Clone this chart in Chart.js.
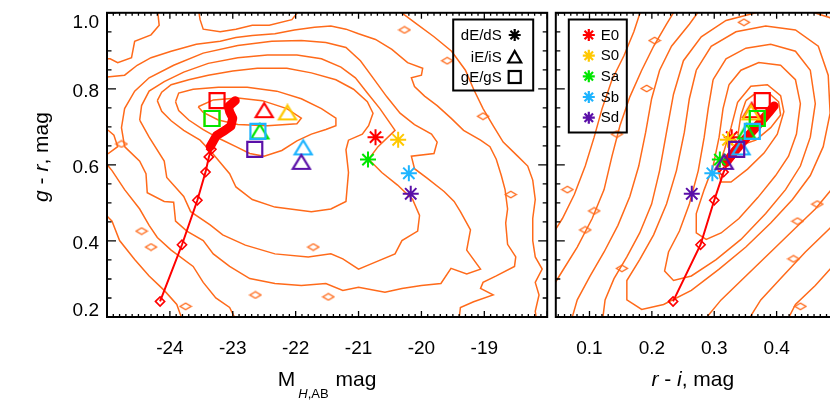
<!DOCTYPE html>
<html><head><meta charset="utf-8">
<script src="https://cdn.jsdelivr.net/npm/chart.js@4.4.1/dist/chart.umd.min.js"></script>
<style>
html,body{margin:0;padding:0;background:#fff;overflow:hidden;width:830px;height:415px;}
#wrap{position:relative;width:830px;height:415px;overflow:hidden;}
#c1{position:absolute;left:0;top:0;}
#c2{position:absolute;left:543px;top:0;}
</style></head><body>
<div id="wrap"><canvas id="c1" width="560" height="415"></canvas><canvas id="c2" width="320" height="415"></canvas></div>
<script>
// ---------------- data ----------------
const galaxyTypes = ['E0','S0','Sa','Sb','Sd'];
const classLabels = ['dE/dS','iE/iS','gE/gS'];
const leftXTicks = [-24,-23,-22,-21,-20,-19];
const rightXTicks = [0.1,0.2,0.3,0.4];
const yTicks = [0.2,0.4,0.6,0.8,1.0];

// dwarf (asterisk), intermediate (triangle), giant (square) models: M_H,AB, g-r, r-i
const dwarfMH = [-20.73,-20.37,-20.85,-20.20,-20.17];
const dwarfGR = [0.673,0.666,0.614,0.578,0.524];
const dwarfRI = [0.328,0.322,0.309,0.297,0.264];
const interMH = [-22.50,-22.13,-22.57,-21.88,-21.91];
const interGR = [0.744,0.738,0.688,0.646,0.608];
const interRI = [0.360,0.359,0.352,0.343,0.316];
const giantMH = [-23.25,-23.33,-23.33,-22.60,-22.65];
const giantGR = [0.769,0.722,0.722,0.688,0.641];
const giantRI = [0.377,0.369,0.369,0.361,0.336];

// red evolutionary track (diamonds) and its dense late part
const trackMH = [-24.156,-23.808,-23.563,-23.433,-23.38,-23.34];
const trackGR = [0.241,0.390,0.507,0.581,0.621,0.641];
const trackRI = [0.234,0.278,0.300,0.315,0.326,0.336];
const denseMH = [-23.36,-23.26,-23.13,-23.03,-23.0,-23.05,-23.07,-22.96];
const denseGRLeft = [0.648,0.677,0.690,0.702,0.723,0.740,0.753,0.769];
const denseRI = [0.319,0.329,0.340,0.352,0.364,0.376,0.387,0.396];
const denseGRRight = [0.606,0.628,0.650,0.672,0.694,0.716,0.737,0.755];

// contours, left panel (M_H,AB , g-r)
const leftContour1 = [[-23.55,.753],[-23.31,.771],[-22.92,.776],[-22.53,.769],[-22.14,.748],[-21.91,.723],[-21.98,.708],[-22.45,.703],[-22.92,.706],[-23.23,.718],[-23.47,.738],[-23.55,.753]];
const leftContour2 = [[-23.91,.766],[-23.86,.789],[-23.63,.799],[-23.23,.804],[-22.77,.804],[-22.30,.794],[-21.91,.774],[-21.59,.748],[-21.36,.723],[-21.36,.703],[-21.52,.693],[-21.75,.681],[-21.98,.663],[-22.22,.638],[-22.5,.623],[-22.73,.630],[-22.95,.648],[-23.20,.668],[-23.47,.693],[-23.70,.718],[-23.86,.743],[-23.91,.766]];
const leftContour3 = [[-24.20,.769],[-24.13,.791],[-23.98,.811],[-23.70,.824],[-23.39,.836],[-23.0,.847],[-22.61,.854],[-22.14,.854],[-21.75,.842],[-21.36,.824],[-21.08,.799],[-20.86,.766],[-20.77,.736],[-20.84,.703],[-20.94,.681],[-21.16,.665],[-21.20,.640],[-21.16,.580],[-21.20,.504],[-21.44,.484],[-21.75,.477],[-22.33,.489],[-22.69,.509],[-22.95,.542],[-23.05,.577],[-23.31,.628],[-23.52,.665],[-23.78,.691],[-23.98,.716],[-24.13,.741],[-24.20,.769]];
const leftContour4 = [[-24.48,.718],[-24.45,.756],[-24.33,.794],[-24.09,.819],[-23.78,.844],[-23.39,.867],[-22.92,.882],[-22.45,.889],[-21.98,.889],[-21.59,.879],[-21.28,.857],[-21.05,.829],[-20.86,.789],[-20.66,.748],[-20.42,.691],[-20.69,.648],[-20.84,.615],[-20.63,.580],[-20.38,.547],[-20.14,.509],[-20.03,.467],[-20.06,.426],[-20.31,.401],[-20.42,.366],[-20.78,.341],[-21.0,.326],[-21.25,.353],[-21.44,.366],[-21.80,.358],[-22.33,.366],[-22.80,.389],[-23.16,.416],[-23.36,.442],[-23.67,.477],[-23.78,.517],[-24.05,.567],[-24.09,.610],[-24.33,.673],[-24.48,.718]];
const leftContour5 = [[-24.72,.648],[-24.77,.698],[-24.72,.748],[-24.56,.794],[-24.33,.829],[-23.94,.862],[-23.47,.894],[-22.92,.914],[-22.38,.925],[-21.91,.927],[-21.52,.922],[-21.20,.909],[-20.97,.874],[-20.77,.829],[-20.55,.779],[-20.34,.736],[-20.11,.706],[-19.84,.681],[-19.75,.660],[-19.80,.630],[-20.16,.623],[-20.11,.590],[-19.91,.565],[-19.64,.530],[-19.48,.504],[-19.38,.477],[-19.22,.429],[-19.28,.376],[-19.06,.326],[-19.28,.313],[-19.53,.328],[-19.69,.288],[-20.0,.283],[-20.31,.275],[-20.58,.265],[-21.0,.278],[-21.25,.270],[-21.52,.288],[-21.91,.283],[-22.33,.288],[-22.73,.301],[-23.05,.333],[-23.31,.366],[-23.47,.401],[-23.73,.426],[-23.91,.452],[-23.94,.502],[-24.09,.504],[-24.36,.527],[-24.38,.577],[-24.48,.610],[-24.72,.648]];
const leftContour6a = [[-25.11,.829],[-24.72,.836],[-24.52,.862],[-24.30,.882],[-23.98,.899],[-23.58,.917],[-23.20,.925],[-22.95,.935],[-22.69,.940],[-22.33,.945],[-22.02,.955],[-21.70,.962],[-21.44,.965],[-21.20,.957],[-21.0,.945],[-20.73,.930],[-20.47,.904],[-20.22,.869],[-19.98,.854],[-20.0,.836],[-20.16,.829],[-20.11,.806],[-19.95,.781],[-19.75,.756],[-19.53,.723],[-19.33,.691],[-19.06,.665],[-18.91,.648],[-18.81,.615],[-18.73,.572],[-18.67,.535],[-18.63,.484],[-18.66,.447],[-18.63,.391],[-18.50,.358],[-18.52,.333],[-18.81,.308],[-19.02,.291],[-19.06,.275],[-18.86,.258],[-19.17,.240],[-19.38,.225],[-19.41,.182]];
const leftContour6b = [[-25.11,.623],[-24.92,.585],[-24.72,.535],[-24.48,.484],[-24.33,.441],[-24.20,.409],[-23.98,.376],[-23.63,.333],[-23.47,.291],[-23.27,.250],[-23.05,.225],[-22.92,.182]];
const leftContour7a = [[-25.11,.879],[-24.95,.879],[-24.83,.869],[-24.61,.882],[-24.56,.925],[-24.30,.942],[-24.17,.967],[-24.20,1.013]];
const leftContour7b = [[-23.55,1.013],[-23.52,.982],[-23.47,.957],[-23.20,.950],[-22.95,.957],[-22.69,.967],[-22.42,.967],[-22.06,.982],[-21.91,1.013]];
const leftContour7c = [[-20.42,1.013],[-20.11,.975],[-19.80,.937],[-19.52,.899],[-19.30,.849],[-19.17,.799],[-19.02,.748],[-18.86,.703],[-18.70,.660],[-18.47,.623],[-18.31,.597],[-18.23,.560],[-18.19,.509],[-18.23,.459],[-18.23,.401],[-18.19,.358],[-18.08,.326],[-18.19,.291],[-18.13,.258],[-18.19,.215],[-18.16,.182]];
const leftContour7d = [[-25.11,.484],[-24.92,.452],[-24.80,.401],[-24.56,.351],[-24.33,.308],[-24.09,.270],[-23.89,.233],[-23.78,.182]];
const leftContour8 = [[-25.11,.698],[-24.98,.691],[-24.89,.678],[-24.83,.648],[-24.98,.630],[-25.11,.628]];
const leftIslands = [[-20.27,.955],[-19.59,.874],[-19.02,.728],[-18.58,.522],[-24.77,.655],[-24.45,.426],[-24.30,.384],[-23.75,.228],[-21.72,.384],[-21.48,.253],[-22.64,.258]];

// contours, right panel (r-i , g-r)
const rightContour1 = [[.3507,.769],[.3666,.789],[.3873,.789],[.4032,.766],[.4064,.731],[.3905,.698],[.3666,.665],[.3476,.655],[.3380,.680],[.3428,.731],[.3507,.769]];
const rightContour2 = [[.3375,.765],[.3587,.807],[.3852,.811],[.4064,.782],[.4116,.740],[.4011,.681],[.3798,.631],[.3534,.589],[.3269,.555],[.3110,.555],[.3057,.589],[.3162,.639],[.3269,.698],[.3375,.765]];
const rightContour3 = [[.3237,.811],[.3428,.849],[.3714,.869],[.4064,.862],[.4302,.824],[.4381,.761],[.4318,.681],[.4191,.623],[.3984,.572],[.3698,.514],[.3396,.459],[.3110,.421],[.2871,.404],[.2712,.421],[.2712,.472],[.2839,.535],[.2982,.597],[.3078,.673],[.3141,.748],[.3237,.811]];
const rightContour4 = [[.2982,.824],[.3189,.879],[.3507,.907],[.3905,.917],[.4302,.899],[.4540,.849],[.4620,.761],[.4540,.673],[.4381,.597],[.4143,.535],[.3825,.472],[.3428,.404],[.3030,.351],[.2633,.308],[.2347,.296],[.2204,.321],[.2267,.371],[.2442,.426],[.2601,.497],[.2744,.585],[.2839,.673],[.2903,.748],[.2982,.824]];
const rightContour5 = [[.2712,.849],[.2951,.912],[.3348,.950],[.3825,.965],[.4302,.955],[.4668,.912],[.4827,.836],[.4858,.736],[.4747,.648],[.4540,.572],[.4254,.509],[.3905,.447],[.3507,.384],[.3078,.326],[.2633,.270],[.2188,.233],[.1837,.220],[.1599,.245],[.1599,.296],[.1805,.351],[.2028,.416],[.2235,.497],[.2394,.585],[.2521,.686],[.2601,.774],[.2712,.849]];
const rightContour6 = [[.1202,.182],[.1250,.245],[.1393,.301],[.1599,.358],[.1805,.421],[.1996,.497],[.2124,.585],[.2235,.686],[.2347,.786],[.2506,.874],[.2792,.937],[.3189,.980],[.3666,1.0],[.4222,1.02],[.4858,.987],[.5176,.899],[.5256,.748],[.5176,.623],[.4938,.547],[.4620,.484],[.4302,.434],[.3905,.371],[.3507,.308],[.3110,.245],[.2792,.182]];
const rightContour7a = [[.0693,.182],[.0804,.245],[.1011,.308],[.1234,.371],[.1456,.441],[.1647,.517],[.1790,.597],[.1901,.686],[.1996,.774],[.2124,.849],[.2315,.912],[.2601,.970],[.2792,1.013]];
const rightContour7b = [[.5256,.522],[.4858,.434],[.4461,.371],[.4064,.301],[.3746,.245],[.3507,.182]];
const rightContour8a = [[.0375,.270],[.0566,.321],[.0804,.384],[.1043,.459],[.1234,.535],[.1361,.623],[.1488,.703],[.1647,.779],[.1837,.849],[.2028,.912],[.2235,.970],[.2394,1.013]];
const rightContour8b = [[.5256,.396],[.4938,.341],[.4620,.283],[.4302,.233],[.4143,.182]];
const rightContour9a = [[.0375,.409],[.0566,.459],[.0757,.522],[.0932,.597],[.1075,.673],[.1202,.748],[.1361,.824],[.1552,.887],[.1711,.950],[.1837,1.013]];
const rightContour9b = [[.5256,.270],[.5017,.233],[.4827,.182]];
const rightIslands = [[.1917,.801],[.2044,.927],[.1440,.681],[.0646,.535],[.0932,.429],[.1520,.328],[.3476,.975],[.4652,.497],[.4334,.452],[.4270,.353],[.4381,.228],[.1075,.479]];

// ---------------- styling helpers ----------------
const FONT = "'Liberation Sans', Arial, Helvetica, sans-serif";
const typeColors = ['#ff0000','#ffc800','#00e600','#1eb4ff','#5a0fa8'];
const CONTOUR = '#ff6a1a';

function pts(arr){ return arr.map(p => ({x:p[0], y:p[1]})); }
function zip(xs, ys){ return xs.map((v,i) => ({x:v, y:ys[i]})); }

function triangleImage(color){
  const c = document.createElement('canvas'); c.width = 22; c.height = 18;
  const g = c.getContext('2d'); g.strokeStyle = color; g.lineWidth = 2.2; g.lineJoin = 'miter';
  g.beginPath(); g.moveTo(11,2); g.lineTo(19.5,16); g.lineTo(2.5,16); g.closePath(); g.stroke();
  return c;
}
function islandImage(){
  const c = document.createElement('canvas'); c.width = 14; c.height = 9;
  const g = c.getContext('2d'); g.strokeStyle = CONTOUR; g.lineWidth = 1.4;
  g.beginPath(); g.moveTo(1.5,4.5); g.lineTo(7,1.2); g.lineTo(12.5,4.5); g.lineTo(7,7.8); g.closePath(); g.stroke();
  return c;
}
const triImgs = typeColors.map(triangleImage);
const islandImg = islandImage();

function contourDS(arr){
  return {data: pts(arr), showLine: true, borderColor: CONTOUR, borderWidth: 1.5, pointRadius: 0, tension: 0, fill: false, order: 100, clip: 0};
}
function islandDS(arr){
  return {data: pts(arr), showLine: false, pointStyle: islandImg, pointRadius: 5, order: 99, clip: 0};
}
function trackDS(xs, ys){
  return {data: zip(xs, ys), showLine: true, borderColor: '#ff0000', borderWidth: 2, pointStyle: 'rectRot', pointRadius: 4.6,
    pointBorderColor: '#ff0000', pointBackgroundColor: 'rgba(255,255,255,0)', pointBorderWidth: 1.6, order: 50, clip: 0};
}
function denseDS(xs, ys){
  return {data: zip(xs, ys), showLine: true, borderColor: '#ff0000', borderWidth: 9, borderCapStyle: 'round', borderJoinStyle: 'round',
    pointRadius: 0, order: 49, clip: 0};
}
function starDS(xs, ys){
  return {data: zip(xs, ys), showLine: false, pointStyle: 'star', pointRadius: 8, pointBorderWidth: 2,
    pointBorderColor: typeColors, pointBackgroundColor: typeColors, order: 30};
}
function triDS(xs, ys){
  return {data: zip(xs, ys), showLine: false, pointStyle: triImgs, pointRadius: 9, order: 20};
}
function squareDS(xs, ys){
  return {data: zip(xs, ys), showLine: false, pointStyle: 'rect', pointRadius: 10.6, pointBorderWidth: 2.2,
    pointBorderColor: typeColors, pointBackgroundColor: 'rgba(255,255,255,0)', order: 10};
}

function drawRich(ctx, segs, x0, baseline){
  let total = 0;
  segs.forEach(s => { ctx.font = s.font; s.w = ctx.measureText(s.text).width; total += s.w + (s.dx || 0); });
  let x = x0 - total / 2;
  ctx.textAlign = 'left'; ctx.textBaseline = 'alphabetic';
  segs.forEach(s => { x += (s.dx || 0); ctx.font = s.font; ctx.fillText(s.text, x, baseline + (s.dy || 0)); x += s.w; });
}
function drawAsterisk(ctx, x, y, r, color, lw){
  ctx.save(); ctx.strokeStyle = color; ctx.lineWidth = lw; ctx.beginPath();
  for (let k = 0; k < 4; k++){ const a = k*Math.PI/4; ctx.moveTo(x - r*Math.cos(a), y - r*Math.sin(a)); ctx.lineTo(x + r*Math.cos(a), y + r*Math.sin(a)); }
  ctx.stroke(); ctx.restore();
}

function drawFrameTicks(chart, xMinorStart, xMinorEnd, xDiv, xMajorEvery, xTicks, fmt){
  const {ctx, chartArea: a, scales: {x, y}} = chart;
  ctx.save();
  ctx.strokeStyle = '#000'; ctx.lineWidth = 1.3; ctx.beginPath();
  for (let i = xMinorStart; i <= xMinorEnd; i++){
    const v = i / xDiv; const px = x.getPixelForValue(v);
    const len = (i % xMajorEvery === 0) ? 6 : 3;
    ctx.moveTo(px, a.bottom); ctx.lineTo(px, a.bottom - len);
    ctx.moveTo(px, a.top); ctx.lineTo(px, a.top + len);
  }
  for (let i = 4; i <= 20; i++){
    const py = y.getPixelForValue(i / 20);
    const len = (i % 4 === 0) ? 9 : 4.5;
    ctx.moveTo(a.left, py); ctx.lineTo(a.left + len, py);
    ctx.moveTo(a.right, py); ctx.lineTo(a.right - len, py);
  }
  ctx.stroke();
  ctx.lineWidth = 2;
  ctx.strokeRect(a.left, a.top, a.right - a.left, a.bottom - a.top);
  // x tick labels from the scale
  ctx.fillStyle = '#000';
  ctx.font = '19px ' + FONT; ctx.textAlign = 'center'; ctx.textBaseline = 'middle';
  xTicks.forEach(v => ctx.fillText(fmt(v), x.getPixelForValue(v), 348.5));
  ctx.restore();
}

const leftDecor = {
  id: 'leftDecor',
  afterDraw(chart){
    const {ctx, chartArea: a, scales: {y}} = chart;
    drawFrameTicks(chart, -250, -180, 10, 10, leftXTicks, v => String(v));
    ctx.save();
    ctx.fillStyle = '#000';
    // y tick labels
    ctx.font = '19px ' + FONT; ctx.textAlign = 'right'; ctx.textBaseline = 'middle';
    yTicks.forEach(v => {
      let py = y.getPixelForValue(v) + 3.3;
      py = Math.max(a.top + 10, Math.min(a.bottom - 6, py));
      ctx.fillText(v.toFixed(1), a.left - 8, py);
    });
    // x title
    drawRich(ctx, [
      {text: 'M', font: '21px ' + FONT},
      {text: 'H', font: 'italic 13px ' + FONT, dy: 12, dx: 3},
      {text: ',AB', font: '13px ' + FONT, dy: 12},
      {text: 'mag', font: '21px ' + FONT, dx: 7}
    ], (a.left + a.right) / 2, 386);
    // y title
    ctx.save(); ctx.translate(47.5, 157); ctx.rotate(-Math.PI / 2);
    drawRich(ctx, [
      {text: 'g', font: 'italic 21px ' + FONT},
      {text: ' - ', font: '21px ' + FONT},
      {text: 'r', font: 'italic 21px ' + FONT},
      {text: ', mag', font: '21px ' + FONT}
    ], 0, 0);
    ctx.restore();
    // legend (classes)
    const bx = a.right - 94, by = 19.5;
    ctx.lineWidth = 2; ctx.strokeStyle = '#000';
    ctx.strokeRect(bx, by, 80, 71);
    ctx.font = '15px ' + FONT; ctx.textAlign = 'right'; ctx.textBaseline = 'middle';
    const rows = [35, 57, 77];
    classLabels.forEach((t, i) => ctx.fillText(t, bx + 48.5, rows[i] + 0.5));
    const sx = bx + 61.5;
    drawAsterisk(ctx, sx, rows[0], 6, '#000', 2.2);
    ctx.lineWidth = 2.2; ctx.beginPath();
    ctx.moveTo(sx, rows[1] - 6); ctx.lineTo(sx + 6.5, rows[1] + 5.5); ctx.lineTo(sx - 6.5, rows[1] + 5.5); ctx.closePath(); ctx.stroke();
    ctx.strokeRect(sx - 6, rows[2] - 6, 12, 12);
    ctx.restore();
  }
};

const rightDecor = {
  id: 'rightDecor',
  afterDraw(chart){
    const {ctx, chartArea: a} = chart;
    drawFrameTicks(chart, 5, 50, 100, 10, rightXTicks, v => v.toFixed(1));
    ctx.save();
    ctx.fillStyle = '#000';
    drawRich(ctx, [
      {text: 'r', font: 'italic 21px ' + FONT},
      {text: ' - ', font: '21px ' + FONT},
      {text: 'i', font: 'italic 21px ' + FONT},
      {text: ', mag', font: '21px ' + FONT}
    ], a.left + 137, 386);
    // legend (types)
    const bx = a.left + 13, by = 19.5;
    ctx.lineWidth = 2; ctx.strokeStyle = '#000';
    ctx.strokeRect(bx, by, 58, 113);
    ctx.font = '15px ' + FONT; ctx.textAlign = 'left'; ctx.textBaseline = 'middle';
    const rows = [35, 55.7, 76.3, 97, 117.7];
    galaxyTypes.forEach((t, i) => {
      drawAsterisk(ctx, bx + 20, rows[i], 6, typeColors[i], 2.2);
      ctx.fillText(t, bx + 32, rows[i] + 0.5);
    });
    ctx.restore();
  }
};

function baseOptions(xMin, xMax, padding){
  return {
    responsive: false, animation: false, events: [],
    layout: {padding: padding},
    plugins: {legend: {display: false}, tooltip: {enabled: false}},
    scales: {
      x: {type: 'linear', min: xMin, max: xMax, display: false},
      y: {type: 'linear', min: 0.2, max: 1.0, display: false}
    }
  };
}

new Chart(document.getElementById('c1'), {
  type: 'scatter',
  data: {datasets: [
    contourDS(leftContour1), contourDS(leftContour2), contourDS(leftContour3), contourDS(leftContour4),
    contourDS(leftContour5), contourDS(leftContour6a), contourDS(leftContour6b), contourDS(leftContour7a),
    contourDS(leftContour7b), contourDS(leftContour7c), contourDS(leftContour7d), contourDS(leftContour8),
    islandDS(leftIslands),
    trackDS(trackMH, trackGR), denseDS(denseMH, denseGRLeft),
    starDS(dwarfMH, dwarfGR), triDS(interMH, interGR), squareDS(giantMH, giantGR)
  ]},
  options: baseOptions(-25, -18, {left: 107, right: 6, top: 1, bottom: 98}),
  plugins: [leftDecor]
});

new Chart(document.getElementById('c2'), {
  type: 'scatter',
  data: {datasets: [
    contourDS(rightContour1), contourDS(rightContour2), contourDS(rightContour3), contourDS(rightContour4),
    contourDS(rightContour5), contourDS(rightContour6), contourDS(rightContour7a), contourDS(rightContour7b),
    contourDS(rightContour8a), contourDS(rightContour8b), contourDS(rightContour9a), contourDS(rightContour9b),
    islandDS(rightIslands),
    trackDS(trackRI, trackGR), denseDS(denseRI, denseGRRight),
    starDS(dwarfRI, dwarfGR), triDS(interRI, interGR), squareDS(giantRI, giantGR)
  ]},
  options: baseOptions(0.046, 0.5, {left: 10, right: 24, top: 1, bottom: 98}),
  plugins: [rightDecor]
});
</script>
</body></html>
